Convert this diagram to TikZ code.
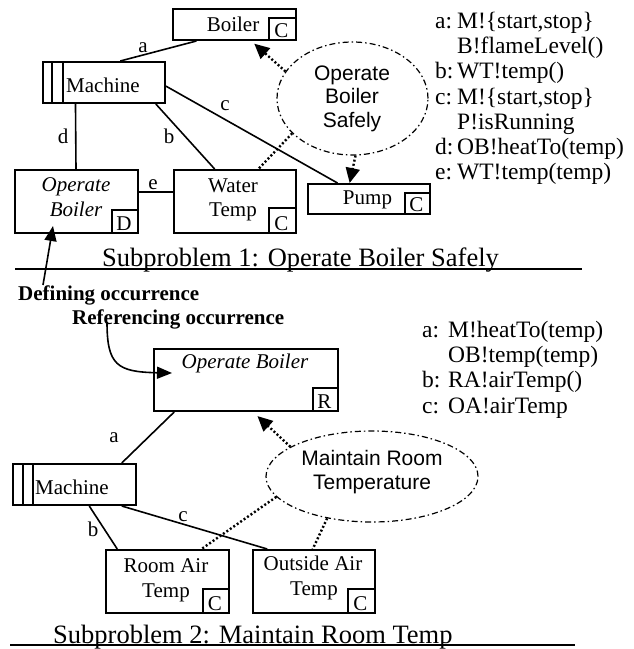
\documentclass[tikz,border=0pt]{standalone}
\usepackage{fontspec}
\setmainfont{Liberation Serif}
\newfontfamily\arialf{Liberation Sans}
\usetikzlibrary{calc,arrows.meta,shapes.geometric}
\tikzset{
  box/.style={draw,line width=2pt,inner sep=0pt,anchor=north west},
  subbox/.style={draw,line width=2pt,inner sep=0pt,anchor=south east},
  conn/.style={line width=1.6pt},
  dots/.style={line width=2.4pt,dash pattern=on 2pt off 2.2pt},
  dotarrow/.style={dots,-{Triangle[length=15pt,width=14pt]}},
  textarrow/.style={line width=1.6pt,-{Triangle[length=15pt,width=12pt]}},
  txt/.style={inner sep=0pt,anchor=base,font=\fontsize{21}{25}\selectfont},
  txtw/.style={txt,anchor=base west},
  itxt/.style={txt,font=\itshape\fontsize{21}{25}\selectfont},
  ann/.style={inner sep=0pt,anchor=base west,font=\fontsize{23.5}{28}\selectfont},
  captiontxt/.style={inner sep=0pt,anchor=base west,font=\fontsize{26.5}{30}\selectfont},
  btxt/.style={inner sep=0pt,anchor=base west,font=\bfseries\fontsize{21}{25}\selectfont},
  sans/.style={inner sep=0pt,anchor=base,font=\arialf\fontsize{21}{25}\selectfont},
  cloud/.style={ellipse,draw,line width=1.2pt,dash pattern=on 6pt off 3pt on 1.5pt off 3pt,inner sep=0pt},
  rulerline/.style={line width=1.5pt}
}
\begin{document}
\begin{tikzpicture}[x=1pt,y=-1pt]
\useasboundingbox (0,0) rectangle (634,649);

% ---------- Subproblem 1 ----------
\node[box,minimum width=123pt,minimum height=31pt] (boiler) at (172,8) {};
\node[subbox,minimum width=27pt,minimum height=22pt] (boilerC) at (boiler.south east) {};
\node[txt] (boilerT) at (233,31) {Boiler};
\node[txt] (boilerCT) at (281.5,37) {C};

\node[box,minimum width=122pt,minimum height=41pt] (m1) at (42,61) {};
\draw[line width=2pt] ($(m1.north west)+(10,0)$) -- ($(m1.south west)+(10,0)$);
\draw[line width=2pt] ($(m1.north west)+(21,0)$) -- ($(m1.south west)+(21,0)$);
\node[txtw] (m1T) at (66,92) {Machine};

\node[box,minimum width=123pt,minimum height=63pt] (opb1) at (14,169) {};
\node[subbox,minimum width=26pt,minimum height=23pt] (opb1D) at (opb1.south east) {};
\node[itxt] (opb1T1) at (76,191) {Operate};
\node[itxt] (opb1T2) at (76,216) {Boiler};
\node[txt] (opb1DT) at (124,230) {D};

\node[box,minimum width=122pt,minimum height=63pt] (water) at (173,169) {};
\node[subbox,minimum width=27pt,minimum height=25pt] (waterC) at (water.south east) {};
\node[txt] (waterT1) at (233,192) {Water};
\node[txt] (waterT2) at (233,216) {Temp};
\node[txt] (waterCT) at (281.5,230) {C};

\node[box,minimum width=122pt,minimum height=30pt] (pump) at (307,183) {};
\node[subbox,minimum width=25pt,minimum height=21pt] (pumpC) at (pump.south east) {};
\node[txt] (pumpT) at (367.5,204) {Pump};
\node[txt] (pumpCT) at (416.5,211) {C};

\node[cloud,minimum width=151pt,minimum height=113pt] (e1) at (352.5,98.5) {};
\node[sans] (e1T1) at (352,80) {Operate};
\node[sans] (e1T2) at (352,103.5) {Boiler};
\node[sans] (e1T3) at (352,127) {Safely};

\draw[conn] ($(m1.north west)!0.631!(m1.north east)$) -- ($(boiler.south west)!0.195!(boiler.south east)$);
\draw[conn] ($(m1.north east)!0.585!(m1.south east)$) -- ($(pump.north west)!0.246!(pump.north east)$);
\draw[conn] ($(m1.south west)!0.27!(m1.south east)$) -- ($(opb1.north west)!0.496!(opb1.north east)$);
\draw[conn] ($(m1.south west)!0.918!(m1.south east)$) -- ($(water.north west)!0.336!(water.north east)$);
\draw[conn] ($(opb1.north east)!0.35!(opb1.south east)$) -- ($(water.north west)!0.35!(water.south west)$);
\node[txt] (la1) at (143,52) {a};
\node[txt] (lc1) at (225,110) {c};
\node[txt] (ld1) at (63,143) {d};
\node[txt] (lb1) at (169,143) {b};
\node[txt] (le1) at (153,189) {e};

\draw[dotarrow,shorten >=4pt] (e1.158) -- ($(boiler.south west)!0.634!(boiler.south east)$);
\draw[dotarrow] (e1.-87) -- ($(pump.north west)!0.344!(pump.north east)$);
\draw[dots] (e1.210) -- ($(water.north west)!0.689!(water.north east)$);

\node[ann] (n1a) at (435,28.5) {a:};
\node[ann] (n1at) at (457,28.5) {M!\{start,stop\}};
\node[ann] (n1at2) at (457,53.7) {B!flameLevel()};
\node[ann] (n1b) at (435,78.9) {b:};
\node[ann] (n1bt) at (457,78.9) {WT!temp()};
\node[ann] (n1c) at (435,104.1) {c:};
\node[ann] (n1ct) at (457,104.1) {M!\{start,stop\}};
\node[ann] (n1ct2) at (457,129.3) {P!isRunning};
\node[ann] (n1d) at (435,154.5) {d:};
\node[ann] (n1dt) at (457,154.5) {OB!heatTo(temp)};
\node[ann] (n1e) at (435,179.7) {e:};
\node[ann] (n1et) at (457,179.7) {WT!temp(temp)};

\draw[rulerline] (15,269) -- (582,269);
\node[captiontxt] (cap1) at (102,266) {Subproblem 1: Operate Boiler Safely};

\node[btxt] (def) at (18,300) {Defining occurrence};
\node[btxt] (ref) at (72,324) {Referencing occurrence};
\draw[textarrow] ($(def.north west)+(25,0)$) -- ($(opb1.south west)+(39,-8)$);

% ---------- Subproblem 2 ----------
\node[box,minimum width=184pt,minimum height=62pt] (opb2) at (153,348) {};
\node[subbox,minimum width=25pt,minimum height=23pt] (opb2R) at (opb2.south east) {};
\node[itxt] (opb2T) at (245,368) {Operate Boiler};
\node[txt] (opb2RT) at (324.5,408) {R};

\draw[textarrow] ($(ref.base west)+(35,-2)$) .. controls +(0,43) and +(-55,-1) .. ($(opb2.north west)+(19,25)$);

\node[box,minimum width=123pt,minimum height=41pt] (m2) at (12,463) {};
\draw[line width=2pt] ($(m2.north west)+(11,0)$) -- ($(m2.south west)+(11,0)$);
\draw[line width=2pt] ($(m2.north west)+(21,0)$) -- ($(m2.south west)+(21,0)$);
\node[txtw] (m2T) at (35,494) {Machine};

\node[box,minimum width=123pt,minimum height=63pt] (rat) at (105,549) {};
\node[subbox,minimum width=26pt,minimum height=24pt] (ratC) at (rat.south east) {};
\node[txt] (ratT1) at (166,572) {Room Air};
\node[txt] (ratT2) at (166,597) {Temp};
\node[txt] (ratCT) at (215,610) {C};

\node[box,minimum width=122pt,minimum height=63pt] (oat) at (252,549) {};
\node[subbox,minimum width=27pt,minimum height=24pt] (oatC) at (oat.south east) {};
\node[txt] (oatT1) at (313,570) {Outside Air};
\node[txt] (oatT2) at (314,595) {Temp};
\node[txt] (oatCT) at (360.5,610) {C};

\node[cloud,minimum width=212pt,minimum height=91pt] (e2) at (372,476.5) {};
\node[sans] (e2T1) at (372,465) {Maintain Room};
\node[sans] (e2T2) at (372,489) {Temperature};

\draw[conn] ($(m2.north west)!0.878!(m2.north east)$) -- ($(opb2.south west)!0.114!(opb2.south east)$);
\draw[conn] ($(m2.south west)!0.618!(m2.south east)$) -- ($(rat.north west)!0.098!(rat.north east)$);
\draw[conn] ($(m2.south west)!0.878!(m2.south east)$) -- ($(oat.north west)!0.123!(oat.north east)$);
\node[txt] (la2) at (114,442) {a};
\node[txt] (lb2) at (93,536) {b};
\node[txt] (lc2) at (183,521) {c};

\draw[dotarrow,shorten >=6pt] (e2.160) -- ($(opb2.south west)!0.538!(opb2.south east)$);
\draw[dots] (e2.192) -- ($(rat.north west)!0.772!(rat.north east)$);
\draw[dots] (e2.223) -- ($(oat.north west)!0.49!(oat.north east)$);

\node[ann] (n2a) at (422,337.5) {a:};
\node[ann] (n2at) at (448,337.5) {M!heatTo(temp)};
\node[ann] (n2at2) at (448,362.7) {OB!temp(temp)};
\node[ann] (n2b) at (422,387.9) {b:};
\node[ann] (n2bt) at (448,387.9) {RA!airTemp()};
\node[ann] (n2c) at (422,413.1) {c:};
\node[ann] (n2ct) at (448,413.1) {OA!airTemp};

\draw[rulerline] (10,645) -- (575,645);
\node[captiontxt] (cap2) at (53,643) {Subproblem 2: Maintain Room Temp};
\end{tikzpicture}
\end{document}
